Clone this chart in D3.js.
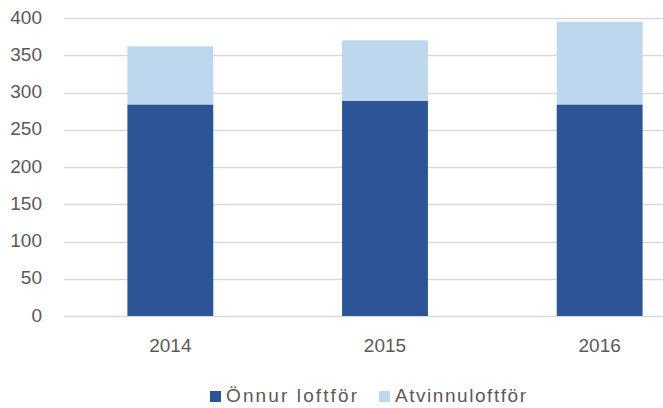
<!DOCTYPE html>
<html>
<head>
<meta charset="utf-8">
<script src="https://cdn.jsdelivr.net/npm/d3@7"></script>
<style>
    body { margin: 0; background: #fff; }
    svg { display: block; font-family: "Liberation Sans", Arial, sans-serif; }
</style>
</head>
<body>
<svg id="chart" width="663" height="408"></svg>
<script>
let years = ['2014', '2015', '2016'];
let series_names = ['Önnur loftför', 'Atvinnuloftför'];
let onnur = [284, 289, 284];
let atvinnu = [78, 81, 111];
let y_ticks = [0, 50, 100, 150, 200, 250, 300, 350, 400];
let colors = ['#2b5597', '#bdd7ee'];

const width = 663;
const height = 408;

const svg = d3.select('#chart');

// chart runs off the right edge in the original, so the band range does too
const x = d3.scaleBand()
    .domain(years)
    .range([63, 707])
    .paddingInner(0.6)
    .paddingOuter(0.3);

const y = d3.scaleLinear()
    .domain([0, 400])
    .range([316, 18]);

// gridlines
svg.append('g')
    .selectAll('line')
    .data(y_ticks)
    .join('line')
    .attr('x1', 64)
    .attr('x2', width)
    .attr('y1', d => Math.round(y(d)) + 0.5)
    .attr('y2', d => Math.round(y(d)) + 0.5)
    .attr('stroke', '#d9d9d9')
    .attr('stroke-width', 1.3);

// y labels
svg.append('g')
    .selectAll('text')
    .data(y_ticks)
    .join('text')
    .attr('x', 42)
    .attr('y', d => y(d) + 5.5)
    .attr('text-anchor', 'end')
    .attr('font-size', 19)
    .attr('fill', '#595959')
    .text(d => d);

const stacked = d3.stack().keys([0, 1])(years.map((yr, i) => ({yr: yr, 0: onnur[i], 1: atvinnu[i]})));

svg.append('g')
    .selectAll('g')
    .data(stacked)
    .join('g')
    .attr('fill', (d, i) => colors[i])
    .selectAll('rect')
    .data(d => d)
    .join('rect')
    .attr('x', d => x(d.data.yr))
    .attr('width', x.bandwidth())
    .attr('y', d => y(d[1]))
    .attr('height', d => y(d[0]) - y(d[1]));

// x labels
svg.append('g')
    .selectAll('text')
    .data(years)
    .join('text')
    .attr('x', d => x(d) + x.bandwidth() / 2)
    .attr('y', 352)
    .attr('text-anchor', 'middle')
    .attr('font-size', 19)
    .attr('fill', '#595959')
    .text(d => d);

// legend
let legend_x = [210, 379];
const legend = svg.append('g')
    .selectAll('g')
    .data(series_names)
    .join('g')
    .attr('transform', (d, i) => 'translate(' + legend_x[i] + ',391)');

legend.append('rect')
    .attr('width', 11)
    .attr('height', 11)
    .attr('fill', (d, i) => colors[i]);

legend.append('text')
    .attr('x', 16)
    .attr('y', 11)
    .attr('font-size', 19)
    .attr('fill', '#595959')
    .attr('textLength', 131)
    .attr('lengthAdjust', 'spacing')
    .text(d => d);
</script>
</body>
</html>
